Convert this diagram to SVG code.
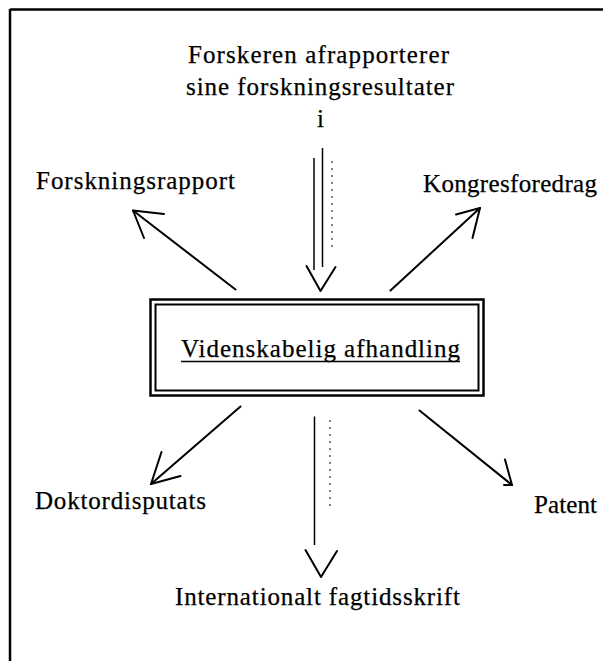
<svg xmlns="http://www.w3.org/2000/svg" width="603" height="661" viewBox="0 0 603 661">
<style>
text{font-family:"Liberation Serif","Times New Roman",serif;fill:#000;font-size:25px;stroke:#000;stroke-width:0.25}
.ln{stroke:#000;stroke-width:2;fill:none;stroke-linecap:round;stroke-linejoin:round}
.thin{stroke:#000;stroke-width:1.5;fill:none}
.dot{stroke:#000;stroke-width:1;fill:none;stroke-dasharray:2 5}
</style>
<rect width="603" height="661" fill="#fff"/>
<g id="frame">
<path d="M10 9.5H603M10 9V661" stroke="#000" stroke-width="2.5" fill="none"/>
</g>
<g id="source">
<text x="188" y="63" textLength="261" lengthAdjust="spacing" font-size="26">Forskeren afrapporterer</text>
<text x="186" y="95" textLength="268" lengthAdjust="spacing" font-size="26">sine forskningsresultater</text>
<text x="320.5" y="126.5" text-anchor="middle" font-size="26">i</text>
</g>
<g id="afhandling">
<rect x="150.5" y="299.5" width="333" height="96" fill="none" stroke="#000" stroke-width="2.5"/>
<rect x="155.5" y="304.5" width="323" height="86" fill="none" stroke="#000" stroke-width="2"/>
<text x="181" y="357" textLength="279" lengthAdjust="spacing" font-size="26">Videnskabelig afhandling</text>
<path d="M181 361.5H460" stroke="#000" stroke-width="1.5"/>
</g>
<g id="forskningsrapport">
<text x="36" y="189" textLength="199" lengthAdjust="spacing">Forskningsrapport</text>
</g>
<g id="kongresforedrag">
<text x="423" y="192" textLength="174" lengthAdjust="spacing">Kongresforedrag</text>
</g>
<g id="doktordisputats">
<text x="35" y="509" textLength="171" lengthAdjust="spacing">Doktordisputats</text>
</g>
<g id="patent">
<text x="534" y="513" textLength="63" lengthAdjust="spacing">Patent</text>
</g>
<g id="fagtidsskrift">
<text x="175" y="605" textLength="285" lengthAdjust="spacing">Internationalt fagtidsskrift</text>
</g>
<g id="connectors">
<path class="thin" d="M314 158V270"/>
<path class="thin" d="M322.5 148V267"/>
<path class="dot" d="M332 161V252"/>
<polyline class="ln" points="306.5,266 320.5,291 335.5,267"/>
<path class="ln" d="M235.5 289.5L133 210.5"/>
<polyline class="ln" points="164,214 133,210.5 144,238"/>
<path class="ln" d="M390.5 290.5L480 208"/>
<polyline class="ln" points="456,214.5 480,208 472.5,238"/>
<path class="ln" d="M240.5 406.5L151 484"/>
<polyline class="ln" points="161.5,452 151,484 180.5,476"/>
<path class="ln" d="M419.5 410.5L512 485"/>
<polyline class="ln" points="505,459.5 512,485 504,485"/>
<path class="thin" d="M314.5 416.5V545"/>
<path class="dot" d="M330 420V508"/>
<polyline class="ln" points="305.5,550 321,577 337,551"/>
</g>
</svg>
